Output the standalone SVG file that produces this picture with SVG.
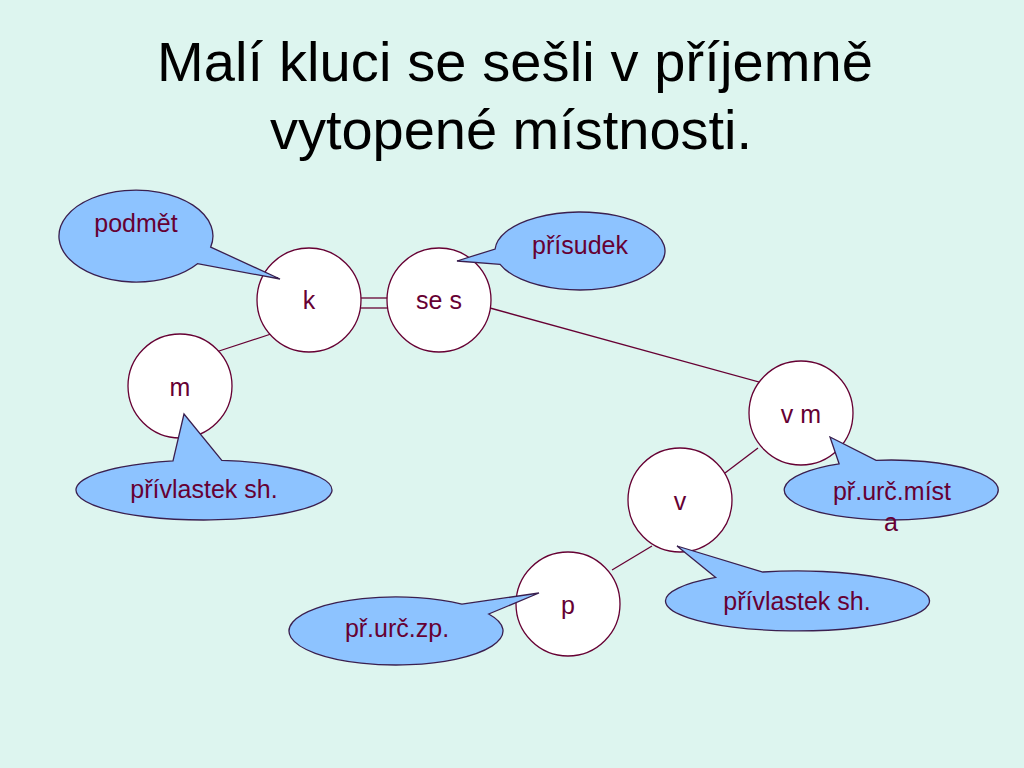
<svg xmlns="http://www.w3.org/2000/svg" width="1024" height="768" viewBox="0 0 1024 768">
<style>
.title{font-family:"Liberation Sans",Arial,sans-serif;font-size:56px;fill:#000;text-anchor:middle}
.node circle{fill:#fff;stroke:#660033;stroke-width:1.3}
.lbl{font-family:"Liberation Sans",Arial,sans-serif;font-size:25px;fill:#660033;text-anchor:middle}
.call path{fill:#8dc3ff;stroke:#3a1f4f;stroke-width:1.3;stroke-linejoin:miter}
.edges line{stroke:#660033;stroke-width:1.3}
</style>
<rect width="1024" height="768" fill="#ddf5ef"/>
<text class="title" x="515" y="81" textLength="716" lengthAdjust="spacing">Malí kluci se sešli v příjemně</text>
<text class="title" x="511" y="149" textLength="482" lengthAdjust="spacing">vytopené místnosti.</text>
<g id="connectors" class="edges">
<line x1="271" y1="334" x2="216" y2="352"/>
<line x1="361" y1="298" x2="388" y2="298"/>
<line x1="361" y1="308" x2="388" y2="308"/>
<line x1="490" y1="308" x2="766" y2="384"/>
<line x1="758" y1="448" x2="725" y2="473"/>
<line x1="652" y1="546" x2="612" y2="570"/>
</g>
<g id="node-k" class="node"><circle cx="309" cy="300" r="52"/><text class="lbl" x="309" y="309">k</text></g>
<g id="node-ses" class="node"><circle cx="439" cy="300" r="52"/><text class="lbl" x="439" y="309">se s</text></g>
<g id="node-m" class="node"><circle cx="180" cy="386" r="52"/><text class="lbl" x="180" y="396">m</text></g>
<g id="node-vm" class="node"><circle cx="801" cy="413" r="52"/><text class="lbl" x="801" y="423">v m</text></g>
<g id="node-v" class="node"><circle cx="680" cy="500" r="52"/><text class="lbl" x="680" y="510">v</text></g>
<g id="node-p" class="node"><circle cx="568" cy="604" r="52"/><text class="lbl" x="568" y="614">p</text></g>
<g id="callout-podmet" class="call"><path d="M210.7,247.1 L280,279 L197.5,263.7 A77 46 0 1 1 210.7,247.1 Z"/><text class="lbl" x="136" y="232">podmět</text></g>
<g id="callout-prisudek" class="call"><path d="M500.1,264.3 L457,261 L495.1,249 A85 39 0 1 1 500.1,264.3 Z"/><text class="lbl" x="580" y="254">přísudek</text></g>
<g id="callout-privlastek1" class="call"><path d="M173,460.9 L184,414 L221.8,460.3 A128 30 0 1 1 173,460.9 Z"/><text class="lbl" x="204" y="498">přívlastek sh.</text></g>
<g id="callout-prurcmista" class="call"><path d="M839.1,463.8 L830,437 L876.1,460.3 A107 30 0 1 1 839.1,463.8 Z"/><text class="lbl" x="892" y="500">př.urč.míst</text><text class="lbl" x="891" y="531">a</text></g>
<g id="callout-privlastek2" class="call"><path d="M715.7,577.4 L677,546 L762.8,572 A132 30 0 1 1 715.7,577.4 Z"/><text class="lbl" x="797" y="610">přívlastek sh.</text></g>
<g id="callout-prurczp" class="call"><path d="M461.9,604.2 L539,593 L488.7,614 A107 34 0 1 1 461.9,604.2 Z"/><text class="lbl" x="397" y="637">př.urč.zp.</text></g>
</svg>
